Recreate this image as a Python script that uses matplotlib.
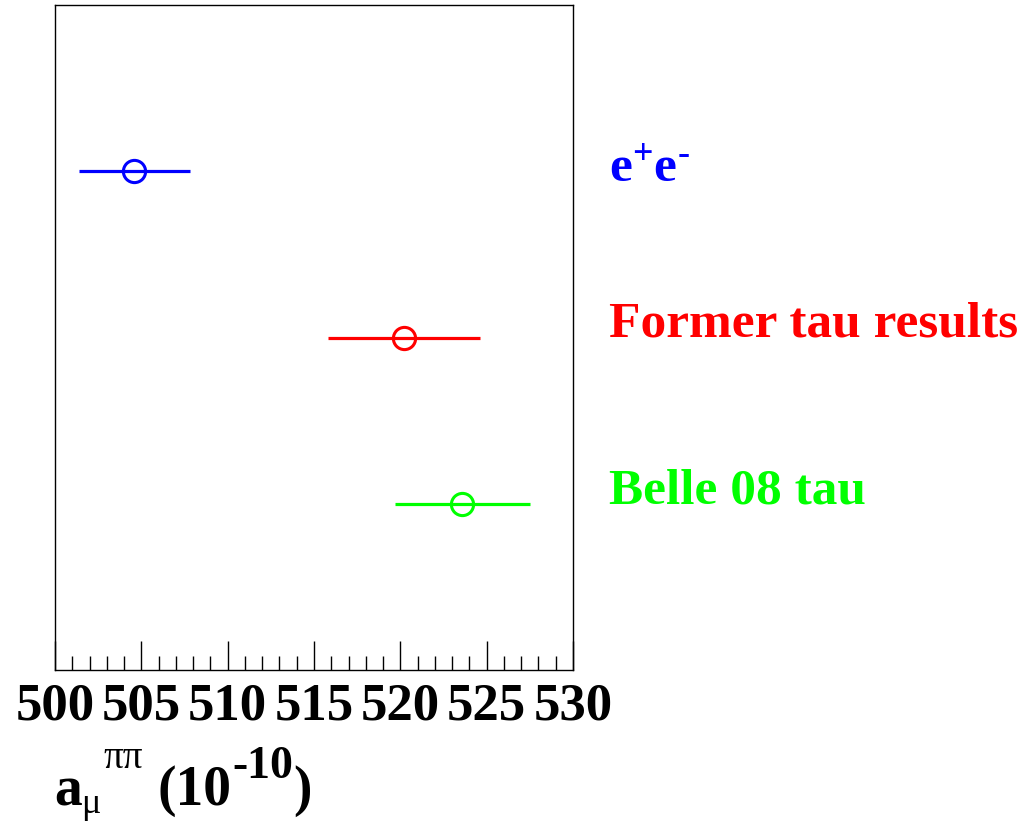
import matplotlib
matplotlib.use("Agg")
import matplotlib.pyplot as plt
from matplotlib.ticker import MultipleLocator
from matplotlib.transforms import blended_transform_factory, offset_copy

# Measurements of the pi-pi contribution to the muon anomaly
labels = [r"e$^{+}$e$^{\text{-}}$", "Former tau results", "Belle 08 tau"]
values = [504.6, 520.2, 523.6]
errors = [3.2, 4.4, 3.9]
colors = ["#0000ff", "#ff0000", "#00ff00"]
rows = [3, 2, 1]
label_dy = [-7.0, 0.5, 0.5]  # baseline shift of each row label, in points

plt.rcParams["font.family"] = ["Liberation Serif", "DejaVu Serif"]
plt.rcParams["font.weight"] = "bold"
plt.rcParams["mathtext.fontset"] = "custom"
plt.rcParams["mathtext.rm"] = "Liberation Serif:bold"
plt.rcParams["mathtext.it"] = "Liberation Serif:bold"
plt.rcParams["mathtext.bf"] = "Liberation Serif:bold"

W, H = 1034, 831
fig = plt.figure(figsize=(W / 100, H / 100), dpi=100)
ax = fig.add_axes([55 / W, 1 - 670 / H, 518 / W, 665 / H])

lab_tr = blended_transform_factory(fig.transFigure, ax.transData)
for v, e, c, r, lab, dy in zip(values, errors, colors, rows, labels, label_dy):
    ax.errorbar([v], [r], xerr=[e], fmt="o", mfc="none", mec=c, ecolor=c,
                mew=2.2, ms=16, elinewidth=2.3, capsize=0, zorder=3)
    ax.text(609 / W, r, lab, color=c, fontsize=37, fontweight="bold",
            va="baseline", ha="left",
            transform=offset_copy(lab_tr, fig=fig, y=dy, units="points"))

ax.set_xlim(500, 530)
ax.set_ylim(0, 4)
ax.xaxis.set_major_locator(MultipleLocator(5))
ax.xaxis.set_minor_locator(MultipleLocator(1))
ax.tick_params(axis="x", which="major", direction="in", length=21, width=1,
               labelsize=38, pad=9, top=False)
ax.tick_params(axis="x", which="minor", direction="in", length=10, width=1,
               top=False)
ax.tick_params(axis="y", left=False, right=False, labelleft=False)
for lbl in ax.get_xticklabels():
    lbl.set_fontweight("bold")
for s in ax.spines.values():
    s.set_linewidth(1)

renderer = fig.canvas.get_renderer()


def put(x, base, s, size, weight="bold"):
    """Place a text piece with its left edge at pixel x and baseline at pixel
    row `base`; return the pixel x where the piece ends."""
    t = fig.text(x / W, 1 - base / H, s, fontsize=size, fontweight=weight,
                 ha="left", va="baseline")
    return t.get_window_extent(renderer).x1


# x-axis title: a_mu^{pi pi} (10^-10)
put(54, 805, "a", 40)
put(81, 813, "\u03bc", 26, "normal")
put(103, 768, "\u03c0\u03c0", 28, "normal")
x = put(157, 805, "(10", 40)
x = put(x + 1, 778, "-10", 33)
put(x, 805, ")", 40)

fig.savefig("out.png", dpi=100)
